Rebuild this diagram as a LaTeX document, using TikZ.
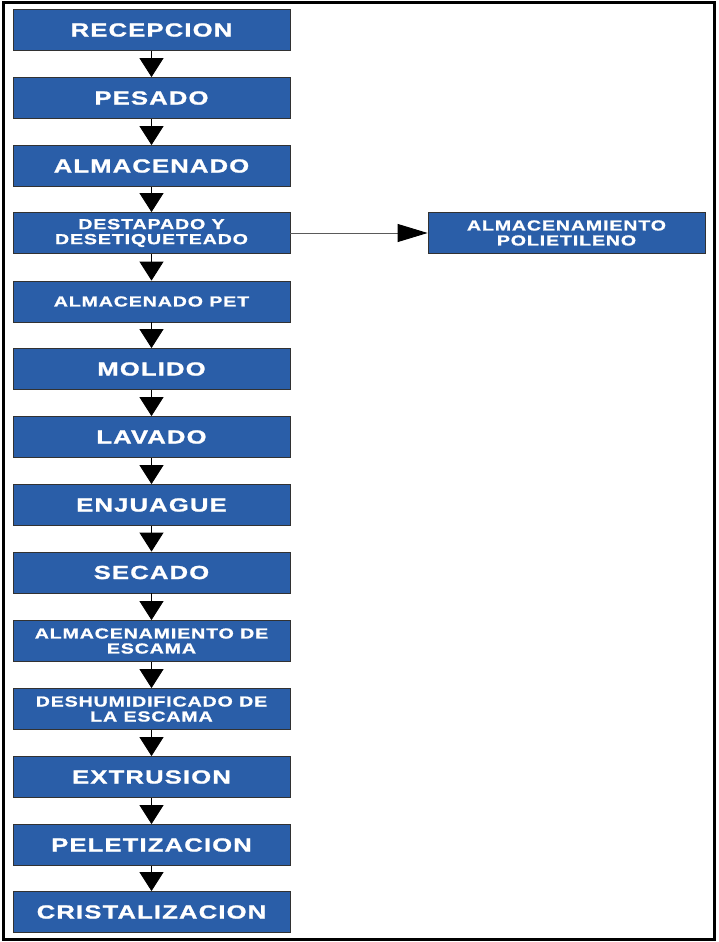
\documentclass[tikz,border=0pt]{standalone}
\usepackage{fontspec}
\usetikzlibrary{arrows.meta}
\newfontfamily\boxfont{Liberation Sans}[FakeStretch=1.35,LetterSpace=6,FakeBold=1.2]
\definecolor{boxblue}{RGB}{42,94,168}
\definecolor{boxedge}{RGB}{50,50,50}
\definecolor{sideline}{RGB}{90,90,90}
\tikzset{
  stepbox/.style={draw=boxedge, line width=0.8pt, fill=boxblue, text=white,
    minimum width=277pt, minimum height=41pt, inner sep=0pt, align=center,
    font=\boxfont\bfseries\fontsize{19}{20}\selectfont},
  smallbox/.style={stepbox, font=\boxfont\bfseries\fontsize{14.5}{15}\selectfont},
  downarrow/.style={draw=black, line width=0.9pt, -{Triangle[width=24pt,length=19pt]}},
  sidearrow/.style={draw=sideline, line width=0.9pt, -{Triangle[width=18pt,length=30pt,color=black]}}
}
\begin{document}
\begin{tikzpicture}[x=1pt,y=-1pt]
\useasboundingbox (0,0) rectangle (718,942);
\draw[line width=2.5pt] (3.5,2.5) rectangle (714.5,939.5);
\node[stepbox]  (n1)  at (151.5,30)    {RECEPCION};
\node[stepbox]  (n2)  at (151.5,98)    {PESADO};
\node[stepbox]  (n3)  at (151.5,166)   {ALMACENADO};
\node[smallbox] (n4)  at (151.5,233)   {DESTAPADO Y\\DESETIQUETEADO};
\node[smallbox] (n5)  at (151.5,301.5) {ALMACENADO PET};
\node[stepbox]  (n6)  at (151.5,369)   {MOLIDO};
\node[stepbox]  (n7)  at (151.5,437)   {LAVADO};
\node[stepbox]  (n8)  at (151.5,505)   {ENJUAGUE};
\node[stepbox]  (n9)  at (151.5,572.5) {SECADO};
\node[smallbox] (n10) at (151.5,641)   {ALMACENAMIENTO DE\\ESCAMA};
\node[smallbox] (n11) at (151.5,709)   {DESHUMIDIFICADO DE\\LA ESCAMA};
\node[stepbox]  (n12) at (151.5,777)   {EXTRUSION};
\node[stepbox]  (n13) at (151.5,845)   {PELETIZACION};
\node[stepbox]  (n14) at (151.5,912)   {CRISTALIZACION};
\node[smallbox] (r1)  at (566.5,233)   {ALMACENAMIENTO\\POLIETILENO};
\foreach \a/\b in {n1/n2,n2/n3,n3/n4,n4/n5,n5/n6,n6/n7,n7/n8,n8/n9,n9/n10,n10/n11,n11/n12,n12/n13,n13/n14}
  \draw[downarrow] (\a.south) -- (\b.north);
\draw[sidearrow] (n4.east) -- (r1.west);
\end{tikzpicture}
\end{document}
